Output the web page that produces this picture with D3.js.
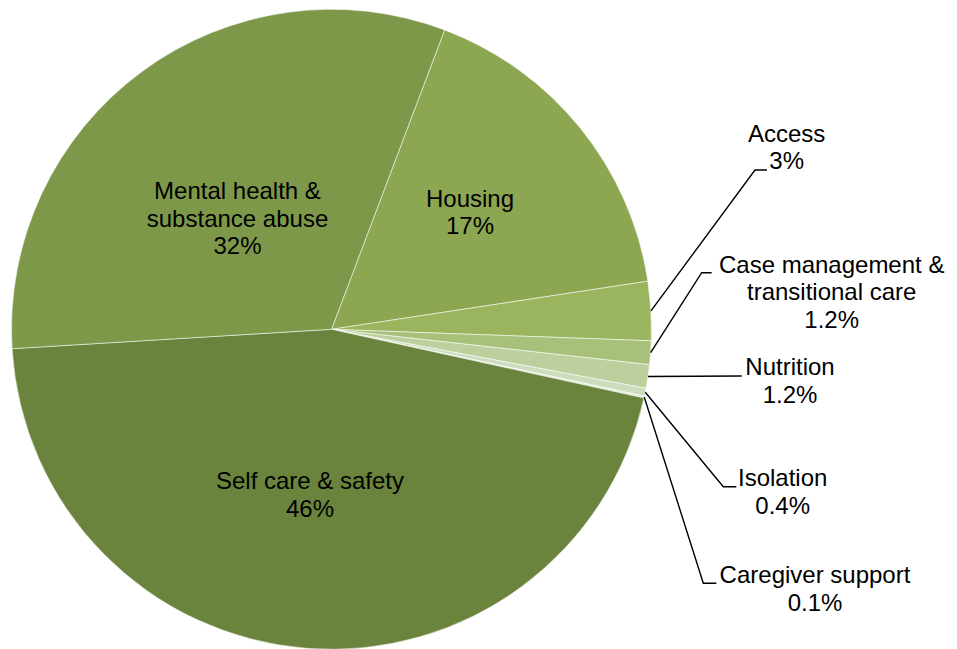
<!DOCTYPE html>
<html>
<head>
<meta charset="utf-8">
<script src="https://cdn.jsdelivr.net/npm/d3@7"></script>
<style>
  html, body { margin: 0; padding: 0; background: #fff; }
  svg { display: block; }
  text { font-family: "Liberation Sans", Arial, sans-serif; font-size: 24px; fill: #000; }
</style>
</head>
<body>
<svg id="chart" width="957" height="649"></svg>
<script>
// Share of issues by category (percent), in clockwise order
const categories = [
  "Housing",
  "Access",
  "Case management & transitional care",
  "Nutrition",
  "Isolation",
  "Caregiver support",
  "Self care & safety",
  "Mental health & substance abuse"
];
const values = [17, 3, 1.2, 1.2, 0.4, 0.1, 46, 32];
const valueLabels = ["17%", "3%", "1.2%", "1.2%", "0.4%", "0.1%", "46%", "32%"];

// How each category name wraps onto lines
const nameLines = [
  ["Housing"],
  ["Access"],
  ["Case management &", "transitional care"],
  ["Nutrition"],
  ["Isolation"],
  ["Caregiver support"],
  ["Self care & safety"],
  ["Mental health &", "substance abuse"]
];

const colors = ["#8ca652", "#9ab55e", "#a8c17a", "#bccf9c", "#cddcbc", "#e0e9d4", "#6b843d", "#7e984a"];

// Layout
const cx = 331.5, cy = 329.3, R = 320;
const lineH = 27.6;
const rot = 20.7 * Math.PI / 180;

// Label anchors: [x, first baseline] ; callouts also carry an elbow [x, y] and a tail length
const labelLayout = [
  { x: 470, y: 206.7 },
  { x: 786.7, y: 141.7, elbow: [755, 170], tail: 12 },
  { x: 831.7, y: 272.7, elbow: [701.7, 272.7], tail: 10 },
  { x: 790, y: 375, elbow: [741.7, 376], tail: 0 },
  { x: 782.7, y: 486, elbow: [723.3, 486.7], tail: 13 },
  { x: 815, y: 583, elbow: [703.3, 583.3], tail: 13 },
  { x: 310, y: 489 },
  { x: 237.5, y: 199 }
];

const svg = d3.select("#chart");
const g = svg.append("g").attr("transform", `translate(${cx},${cy})`);

const pie = d3.pie().sort(null).value(d => d).startAngle(rot).endAngle(rot + 2 * Math.PI);
const arcs = pie(values);
const arc = d3.arc().innerRadius(0).outerRadius(R);

g.selectAll("path.slice")
  .data(arcs)
  .join("path")
  .attr("class", "slice")
  .attr("d", arc)
  .attr("fill", (d, i) => colors[i])
  .attr("stroke", "rgba(255,255,255,0.6)")
  .attr("stroke-width", 0.9)
  .attr("stroke-linejoin", "round");

// Leader lines for the small slices
arcs.forEach((d, i) => {
  const L = labelLayout[i];
  if (!L.elbow) return;
  const mid = (d.startAngle + d.endAngle) / 2;
  const sx = cx + R * Math.sin(mid);
  const sy = cy - R * Math.cos(mid);
  const pts = [[sx, sy], L.elbow];
  if (L.tail) pts.push([L.elbow[0] + L.tail, L.elbow[1]]);
  svg.append("path")
    .attr("d", d3.line()(pts))
    .attr("fill", "none")
    .attr("stroke", "#000")
    .attr("stroke-width", 1.4);
});

// Category names and percentages
arcs.forEach((d, i) => {
  const L = labelLayout[i];
  const lines = nameLines[i].concat([valueLabels[i]]);
  const t = svg.append("text").attr("text-anchor", "middle");
  lines.forEach((s, k) => {
    t.append("tspan").attr("x", L.x).attr("y", L.y + k * lineH).text(s);
  });
});
</script>
</body>
</html>
